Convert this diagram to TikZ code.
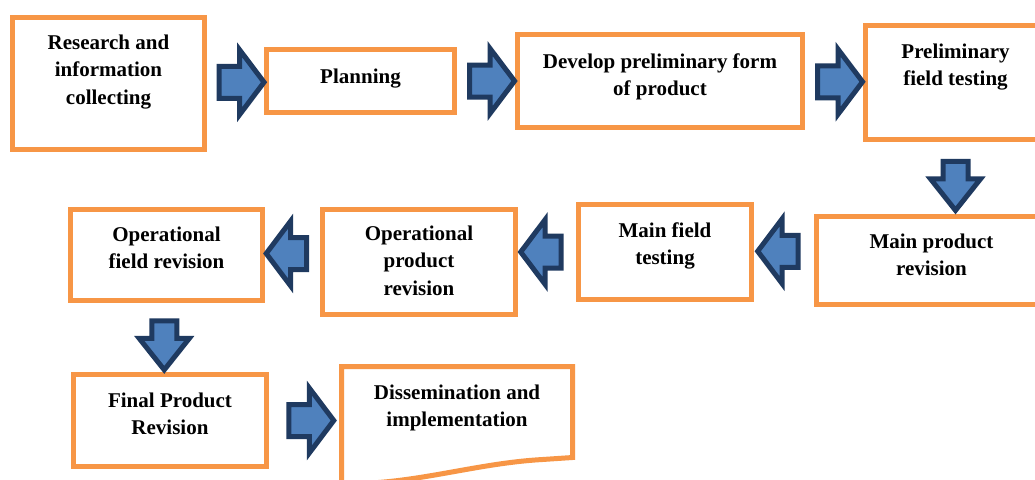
\documentclass[tikz,border=0pt]{standalone}
\usepackage{fontspec}
\setmainfont{Liberation Serif}
\usetikzlibrary{shapes.arrows,calc}

\definecolor{stageorange}{HTML}{F79646}
\definecolor{arrowfill}{HTML}{4F81BD}
\definecolor{arrowline}{HTML}{1F3A60}

% width, height, first baseline, text (all in px = pt)
\newcommand{\stagetext}[4]{%
  \parbox[t][#2pt][t]{#1pt}{\centering\rule{0pt}{#3pt}#4}}

\begin{document}
\begin{tikzpicture}[x=1pt,y=-1pt,
  stage/.style={draw=stageorange,line width=5pt,fill=white,inner sep=0pt,%
    anchor=north west,font=\fontsize{21}{27.5}\selectfont\bfseries},
  flowarrow/.style={single arrow,draw=arrowline,fill=arrowfill,line width=5pt,%
    inner sep=0pt,outer sep=0pt,inner ysep=13.5pt,minimum height=45pt,%
    single arrow head extend=16.5pt,single arrow tip angle=106},
  backarrow/.style={flowarrow,minimum height=40.5pt,rotate=180},
  downarrow/.style={flowarrow,minimum height=49pt,inner ysep=10pt,%
    single arrow head extend=12.5pt,single arrow tip angle=77,rotate=-90}]
  \path[use as bounding box,fill=white] (0,0) rectangle (1035,479);%
  %
  % top row
  \node[stage] (research) at (10,15) {\stagetext{192}{132}{31.5}{Research and\\information\\collecting}};%
  \node[stage] (planning) at (264,47) {\stagetext{188}{63}{33.5}{Planning}};%
  \node[stage] (develop) at (515,32) {\stagetext{285}{93}{33.5}{Develop preliminary form\\of product}};%
  \node[stage] (prelim) at (863,23) {\stagetext{180}{114}{32.5}{Preliminary\\field testing}};%
  %
  % middle row
  \node[stage] (mainrev) at (814,214) {\stagetext{230}{88}{31.5}{Main product\\revision}};%
  \node[stage] (mainfield) at (576,202) {\stagetext{173}{95}{32.5}{Main field\\testing}};%
  \node[stage] (opprod) at (320,207) {\stagetext{193}{105}{30.5}{Operational\\product\\revision}};%
  \node[stage] (opfield) at (68,207) {\stagetext{192}{91}{31.5}{Operational\\field revision}};%
  %
  % bottom row
  \node[stage] (final) at (71,372) {\stagetext{193}{92}{32.5}{Final Product\\Revision}};%
  \node[stage,draw=none,outer sep=0pt] (dissem) at (341.5,366.5) {\stagetext{231}{91}{32.5}{Dissemination and\\implementation}};%
  \draw[stageorange,line width=5pt] (dissem.south east) -- (dissem.north east)%
    -- (dissem.north west) -- ($(dissem.south west)+(0,26)$)%
    .. controls +(70,2) and +(-70,4) .. ($(dissem.south east)+(-30,2)$) -- cycle;%
  %
  % block arrows
  \node[flowarrow] (a1) at ($(research.east)!0.5!(planning.west)$) {};%
  \node[flowarrow] (a2) at ($(planning.east)!0.5!(develop.west)$) {};%
  \node[flowarrow] (a3) at ($(develop.east)!0.5!(prelim.west)$) {};%
  \node[downarrow] (a4) at ($(prelim.south)!0.5!(prelim.south |- mainrev.north)$) {};%
  \node[backarrow] (a5) at ($(mainrev.west)!0.5!(mainfield.east)+(0,-5)$) {};%
  \node[backarrow] (a6) at ($(mainfield.west)!0.5!(opprod.east)+(0,-5)$) {};%
  \node[backarrow] (a7) at ($(opprod.west)!0.5!(opfield.east)+(0,-5)$) {};%
  \node[downarrow] (a8) at ($(opfield.south)!0.5!(final.north)+(-4,0)$) {};%
  \node[flowarrow] (a9) at ($(final.east)!0.5!(final.east -| dissem.west)$) {};%
\end{tikzpicture}
\end{document}
